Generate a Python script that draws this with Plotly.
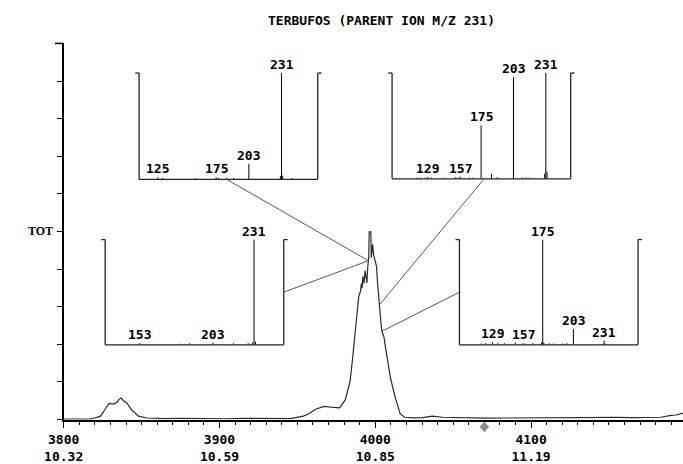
import numpy as np
import plotly.graph_objects as go

# ---------------- DATA ----------------
# Total ion chromatogram: scan number vs relative intensity (TOT = 50)
scan = [3800, 3808, 3816.8, 3819.9, 3823.7, 3826.4, 3829.1, 3832.2, 3834.3, 3835.3,
        3836.8, 3838.4, 3840.5, 3843.6, 3845.5, 3848.0, 3853.4, 3860, 3865.4, 3875,
        3885, 3896.6, 3905, 3915, 3927.7, 3937, 3945.6, 3953.8, 3957.6, 3962.0,
        3967.2, 3973.4, 3977.1, 3980.7, 3983.8, 3985.2, 3986.5, 3988.0, 3989.4, 3990.5,
        3991.1, 3991.5, 3992.1, 3992.7, 3993.5, 3994.2, 3994.6, 3995.2, 3995.8, 3996.1,
        3997.2, 3997.4, 3998.3, 3998.9, 3999.8, 4000.8, 4001.4, 4002.5, 4003.6, 4004.2,
        4005.6, 4006.7, 4008.1, 4009.8, 4012.9, 4016.0, 4018.9, 4024.3, 4030.5, 4036.5,
        4043.3, 4050, 4058.6, 4070, 4083.5, 4095, 4108.4, 4115, 4124.6, 4135,
        4145.8, 4155, 4164.5, 4175, 4183.2, 4189.8, 4193.1, 4197.5]
tic = [0.1, 0.15, 0.1, 0.4, 0.9, 2.6, 4.3, 4.1, 4.6, 5.3,
       5.7, 5.0, 4.4, 2.6, 1.8, 0.9, 0.4, 0.3, 0.26, 0.3,
       0.2, 0.25, 0.2, 0.3, 0.2, 0.25, 0.26, 0.9, 1.6, 2.8,
       3.5, 3.2, 3.1, 5.2, 10.1, 15.3, 20.6, 27.6, 32.8, 34.1,
       36.2, 34.9, 38.1, 36.2, 39.6, 37.5, 36.3, 40.7, 43.0, 49.9,
       49.9, 43.0, 46.6, 43.8, 42.4, 40.7, 36.7, 30.4, 25.8, 23.6,
       21.9, 18.8, 15.3, 10.9, 5.7, 1.5, 0.6, 0.45, 0.5, 0.9,
       0.6, 0.5, 0.4, 0.35, 0.4, 0.45, 0.5, 0.45, 0.6, 0.5,
       0.5, 0.55, 0.5, 0.55, 0.6, 1.1, 1.2, 1.7]
major_scans = [3800, 3900, 4000, 4100]
rt_minutes = ["10.32", "10.59", "10.85", "11.19"]
marker_scan = [4070]

title_text = "TERBUFOS (PARENT ION M/Z 231)"
y_label = "TOT"
y_label_level = 50

# Mass spectra (m/z, relative intensity) for four scans across the peak
spec1_mz = [125, 129, 157, 175, 177, 184, 190, 203, 230, 231, 232, 240]
spec1_int = [2, 1.2, 1, 2, 1.5, 1.5, 1.2, 14.6, 3, 100, 3.5, 1.2]
spec1_labels = [125, 175, 203, 231]
spec1_range = [109, 262]

spec2_mz = [120, 123, 127, 129, 132, 143, 153, 155, 157, 165, 168, 175, 184, 189,
            203, 211, 214, 217, 230, 231, 232]
spec2_int = [1.2, 1.2, 1.2, 1.8, 1.2, 1, 1.5, 1.2, 2, 1.2, 1.2, 50.6, 4.7, 1.5,
             96, 1.2, 1.2, 1.2, 5, 100, 7]
spec2_labels = [129, 157, 175, 203, 231]
spec2_range = [98, 252.5]

spec3_mz = [153, 181, 187, 203, 217, 227, 230, 231, 232]
spec3_int = [1.5, 1, 1.5, 2, 1.5, 1.5, 2, 100, 3]
spec3_labels = [153, 203, 231]
spec3_range = [129.4, 251.3]

spec4_mz = [119, 123, 129, 134, 140, 150, 157, 159, 166, 174, 175, 176, 181, 185,
            193, 197, 203, 230, 231, 232]
spec4_int = [1.2, 1.5, 2.5, 1.5, 1.5, 2, 1.5, 1.2, 1.5, 2, 100, 2, 1.5, 1.2,
             1.2, 1.5, 15, 1, 4, 1]
spec4_labels = [129, 157, 175, 203, 231]
spec4_range = [99, 262]

spec_scans = [3995.6, 4002.5, 3995.6, 4004.3]

# ---------------- LAYOUT GEOMETRY (pixels) ----------------
W, H = 683, 464
MX0, MX1, MY0, MY1 = 45, 683, 44, 425      # main plot box (left, right, top, bottom)
XR = [3800, 4197.5]
YR = [0, 100]

insets = [  # left, right, top, bottom (px), connector anchor in inset-domain fraction
    dict(box=(122.7, 306.7, 74, 181.7), anchor=(0.49, 0.0)),
    dict(box=(383.3, 567.3, 74, 181.2), anchor=(0.515, 0.0)),
    dict(box=(87.7, 271.7, 242.7, 349.3), anchor=(1.0, 0.5)),
    dict(box=(452.7, 636.7, 242.7, 349.3), anchor=(0.0, 0.5)),
]
spectra = [
    (spec1_mz, spec1_int, spec1_labels, spec1_range),
    (spec2_mz, spec2_int, spec2_labels, spec2_range),
    (spec3_mz, spec3_int, spec3_labels, spec3_range),
    (spec4_mz, spec4_int, spec4_labels, spec4_range),
]

MONO = "DejaVu Sans Mono"
FS = 13


def px(x):
    return x / W


def py(y):
    return 1 - y / H


def main_to_pixel(s, v):
    x = MX0 + (s - XR[0]) / (XR[1] - XR[0]) * (MX1 - MX0)
    y = MY1 - (v - YR[0]) / (YR[1] - YR[0]) * (MY1 - MY0)
    return x, y


fig = go.Figure()

# chromatogram
fig.add_trace(go.Scatter(x=scan, y=tic, mode="lines",
                         line=dict(color="#2a2a2a", width=1.2),
                         xaxis="x", yaxis="y", showlegend=False, hoverinfo="skip"))

tickvals = list(range(3800, 4151, 50))
ticktext = []
for v in tickvals:
    if v in major_scans:
        ticktext.append(f"<b>{v}</b><br><b>{rt_minutes[major_scans.index(v)]}</b>")
    else:
        ticktext.append("")

layout = dict(
    width=W, height=H,
    margin=dict(l=0, r=0, t=0, b=0),
    paper_bgcolor="white", plot_bgcolor="white",
    showlegend=False,
    xaxis=dict(domain=[px(MX0), px(MX1)], range=XR, anchor="y",
               showline=True, linecolor="black", linewidth=1.5,
               showgrid=False, zeroline=False,
               tickmode="array", tickvals=tickvals, ticktext=ticktext,
               ticks="outside", ticklen=7, tickwidth=1, tickcolor="black",
               tickfont=dict(family=MONO, size=FS, color="black"),
               minor=dict(tickmode="array", tickvals=list(range(3800, 4197, 10)),
                          ticks="outside", ticklen=4, tickwidth=1, tickcolor="black",
                          showgrid=False)),
    yaxis=dict(domain=[py(MY1), py(MY0)], range=YR, anchor="x",
               showline=True, linecolor="black", linewidth=1.5,
               showgrid=False, zeroline=False,
               tickmode="array", tickvals=list(range(0, 101, 10)),
               ticktext=[""] * 11,
               ticks="outside", ticklen=5, tickwidth=1, tickcolor="black"),
)

shapes = []
annotations = []

# long top tick on y axis and slightly longer TOT tick
shapes.append(dict(type="line", xref="paper", yref="paper",
                   x0=px(MX0 - 9), x1=px(MX0), y0=py(MY0), y1=py(MY0),
                   line=dict(color="black", width=1.5)))
shapes.append(dict(type="line", xref="paper", yref="y",
                   x0=px(MX0 - 7), x1=px(MX0), y0=y_label_level, y1=y_label_level,
                   line=dict(color="black", width=1)))

# diamond marker under the time axis
for ms in marker_scan:
    shapes.append(dict(type="path", xref="x", yref="paper",
                       xsizemode="pixel", ysizemode="pixel",
                       xanchor=ms, yanchor=py(MY1 + 7.5),
                       path="M0,5 L4.5,0 L0,-5 L-4.5,0 Z",
                       fillcolor="#8c8c8c", line=dict(color="#8c8c8c", width=0.5)))

annotations.append(dict(text=f"<b>{y_label}</b>", xref="paper", yref="y",
                        x=px(MX0 - 9), y=y_label_level, xanchor="right", yanchor="middle",
                        showarrow=False,
                        font=dict(family="Liberation Serif", size=12, color="black")))
annotations.append(dict(text=f"<b>{title_text}</b>", xref="paper", yref="paper",
                        x=px(372), y=py(21), xanchor="center", yanchor="middle",
                        showarrow=False,
                        font=dict(family=MONO, size=FS, color="black")))

for i, (ins, (mz, inten, labels, rng)) in enumerate(zip(insets, spectra)):
    n = i + 2
    xa, ya = f"x{n}", f"y{n}"
    l, r, t, b = ins["box"]
    layout[f"xaxis{n}"] = dict(domain=[px(l), px(r)], range=rng, anchor=ya, visible=False)
    layout[f"yaxis{n}"] = dict(domain=[py(b), py(t)], range=[0, 100], anchor=xa, visible=False)

    xs, ys = [], []
    for m, v in zip(mz, inten):
        xs += [m, m, None]
        ys += [0, v, None]
    fig.add_trace(go.Scatter(x=xs, y=ys, mode="lines", xaxis=xa, yaxis=ya,
                             line=dict(color="black", width=1), cliponaxis=False,
                             showlegend=False, hoverinfo="skip"))

    dx = f"{xa} domain"
    dy = f"{ya} domain"
    stub = 4 / (r - l)
    fl = dict(color="#222222", width=1.3)
    shapes += [
        dict(type="line", xref=dx, yref=dy, x0=0, x1=0, y0=0, y1=1, line=fl),
        dict(type="line", xref=dx, yref=dy, x0=1, x1=1, y0=0, y1=1, line=fl),
        dict(type="line", xref=dx, yref=dy, x0=0, x1=1, y0=0, y1=0, line=fl),
        dict(type="line", xref=dx, yref=dy, x0=-stub, x1=0, y0=1, y1=1, line=fl),
        dict(type="line", xref=dx, yref=dy, x0=1, x1=1 + stub, y0=1, y1=1, line=fl),
    ]

    for lab in labels:
        v = inten[mz.index(lab)]
        annotations.append(dict(text=f"<b>{lab}</b>", xref=xa, yref=ya, x=lab, y=v,
                                xanchor="center", yanchor="bottom", yshift=-1,
                                showarrow=False,
                                font=dict(family=MONO, size=FS, color="black")))

    # connector from inset to chromatogram
    ax_f, ay_f = ins["anchor"]
    ax_px = l + ax_f * (r - l)
    ay_px = b - ay_f * (b - t)
    s = spec_scans[i]
    v = float(np.interp(s, scan, tic))
    cx, cy = main_to_pixel(s, v)
    shapes.append(dict(type="line", xref="paper", yref="paper",
                       x0=px(ax_px), y0=py(ay_px), x1=px(cx), y1=py(cy),
                       line=dict(color="#555555", width=1)))

layout["shapes"] = shapes
layout["annotations"] = annotations
fig.update_layout(**layout)

fig.write_html("out.html")
